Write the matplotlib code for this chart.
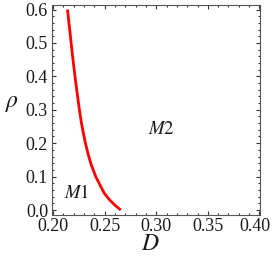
import matplotlib
matplotlib.use("Agg")
import matplotlib.pyplot as plt
import matplotlib.transforms as mtransforms
from matplotlib.ticker import MultipleLocator

plt.rcParams['font.family'] = ['Liberation Serif', 'DejaVu Serif']
plt.rcParams['mathtext.fontset'] = 'stix'

# boundary curve between regimes M1 and M2
rho = [0.600, 0.533, 0.464, 0.389, 0.299, 0.254, 0.204, 0.165, 0.135, 0.100, 0.075, 0.051, 0.030, 0.012, 0.000]
D = [0.2139, 0.2163, 0.2187, 0.2216, 0.2255, 0.2278, 0.2310, 0.2341, 0.2370, 0.2413, 0.2454, 0.2494, 0.2548, 0.2608, 0.2656]

region_labels = ["$M1$", "$M2$"]
region_D = [0.2232, 0.3046]
region_rho = [0.051, 0.240]

xticks = [0.20, 0.25, 0.30, 0.35, 0.40]
yticks = [0.0, 0.1, 0.2, 0.3, 0.4, 0.5, 0.6]

fig = plt.figure(figsize=(2.73, 2.57), dpi=100)
ax = fig.add_axes([0.189, 0.1646, 0.763, 0.814])

ax.plot(D, rho, color='#ff0000', lw=2.0, solid_capstyle='butt', solid_joinstyle='round')
for lab, x, y in zip(region_labels, region_D, region_rho):
    ax.text(x, y, lab, fontsize=13.5, ha='center', va='center', color='#1a1a1a')

ax.set_xlim(0.1985, 0.4005)
ax.set_ylim(-0.014, 0.612)
ax.set_xticks(xticks)
ax.set_xticklabels([f"{t:.2f}" for t in xticks])
ax.set_yticks(yticks)
ax.set_yticklabels([f"{t:.1f}" for t in yticks])
ax.xaxis.set_minor_locator(MultipleLocator(0.01))
ax.yaxis.set_minor_locator(MultipleLocator(0.02))
ax.tick_params(which='both', direction='in', top=True, right=True, color='#333333', width=0.8)
ax.tick_params(which='major', length=3.0, labelsize=13.0, labelcolor='#1a1a1a', pad=2.5)
ax.tick_params(which='minor', length=1.6)
for s in ax.spines.values():
    s.set_color('#555555')
    s.set_linewidth(0.8)

# nudge the last x tick label inward so it stays inside the figure
last = ax.get_xticklabels()[-1]
last.set_transform(last.get_transform() + mtransforms.ScaledTranslation(-4/100, 0, fig.dpi_scale_trans))

fig.text(150/273, 1-244/257, '$D$', fontsize=17, ha='center', va='center', color='#1a1a1a')
fig.text(12/273, 1-104/257, r'$\rho$', fontsize=17, ha='center', va='center', color='#1a1a1a')

fig.savefig('out.png', dpi=100)
